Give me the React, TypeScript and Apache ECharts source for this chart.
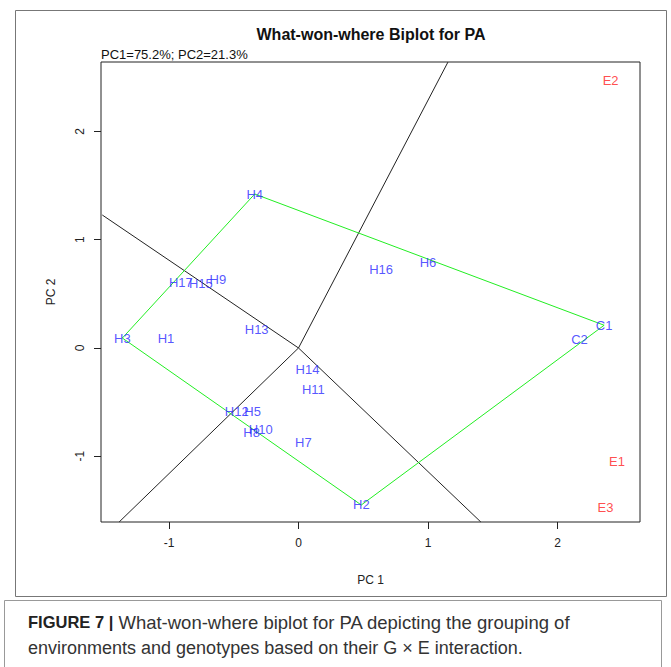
import React, { useEffect, useRef } from "react";
import * as echarts from "echarts";

// Genotype scores (PC1, PC2)
const genotypeNames = ["H1", "H2", "H3", "H4", "H5", "H6", "H7", "H8", "H9", "H10", "H17", "H11", "H12", "H13", "H14", "H15", "H16"];
const genotypePC1 = [-1.023, 0.485, -1.36, -0.338, -0.354, 1.0, 0.038, -0.362, -0.623, -0.292, -0.908, 0.115, -0.477, -0.323, 0.069, -0.754, 0.638];
const genotypePC2 = [0.083, -1.45, 0.092, 1.422, -0.591, 0.794, -0.877, -0.776, 0.637, -0.757, 0.609, -0.379, -0.591, 0.175, -0.203, 0.6, 0.729];

// Check entries
const checkNames = ["C1", "C2"];
const checkPC1 = [2.36, 2.17];
const checkPC2 = [0.21, 0.074];

// Environment scores
const envNames = ["E1", "E2", "E3"];
const envPC1 = [2.46, 2.41, 2.37];
const envPC2 = [-1.05, 2.47, -1.47];

// Convex hull vertices (closed)
const hullNames = ["H4", "C1", "H2", "H3", "H4"];

// Sector boundary rays from the origin, end points on the plot edge
const rayEndPC1 = [1.154, -1.515, 1.408, -1.385];
const rayEndPC2 = [2.64, 1.228, -1.607, -1.607];

const xTicks = [-1, 0, 1, 2];
const yTicks = [-1, 0, 1, 2];

const X_MIN = -1.525;
const X_MAX = 2.637;
const Y_MIN = -1.607;
const Y_MAX = 2.641;

function pointOf(name: string): [number, number] {
  const gi = genotypeNames.indexOf(name);
  if (gi >= 0) return [genotypePC1[gi], genotypePC2[gi]];
  const ci = checkNames.indexOf(name);
  return [checkPC1[ci], checkPC2[ci]];
}

export default function App() {
  const ref = useRef<HTMLDivElement>(null);

  useEffect(() => {
    if (!ref.current) return;
    const chart = echarts.init(ref.current, null, { renderer: "svg" });
    const font = "'Liberation Sans', Arial, sans-serif";

    const labelSeries = (names: string[], xs: number[], ys: number[], color: string, id: string) => ({
      id,
      type: "scatter",
      symbolSize: 1,
      itemStyle: { color: "rgba(0,0,0,0)" },
      data: names.map((n, i) => ({ name: n, value: [xs[i], ys[i]] })),
      label: {
        show: true,
        position: "inside",
        formatter: "{b}",
        color,
        fontSize: 13,
        fontFamily: font,
      },
      labelLayout: { hideOverlap: false },
      z: 5,
    });

    const rays = rayEndPC1.map((x, i) => ({
      type: "line",
      data: [[0, 0], [x, rayEndPC2[i]]],
      symbol: "none",
      lineStyle: { color: "#222", width: 1 },
      z: 2,
    }));

    chart.setOption({
      animation: false,
      backgroundColor: "#fff",
      grid: {
        left: 101,
        top: 62,
        width: 539,
        height: 460,
        show: true,
        borderColor: "#222",
        borderWidth: 1,
        backgroundColor: "transparent",
      },
      xAxis: {
        type: "value",
        min: X_MIN,
        max: X_MAX,
        axisLine: { show: false, onZero: false },
        axisTick: { show: true, inside: false, length: 7, customValues: xTicks, lineStyle: { color: "#222" } },
        axisLabel: { customValues: xTicks, fontSize: 12, color: "#222", margin: 15, fontFamily: font },
        splitLine: { show: false },
        name: "PC 1",
        nameLocation: "middle",
        nameGap: 52,
        nameTextStyle: { fontSize: 12, color: "#222", fontFamily: font },
      },
      yAxis: {
        type: "value",
        min: Y_MIN,
        max: Y_MAX,
        axisLine: { show: false, onZero: false },
        axisTick: { show: true, inside: false, length: 7, customValues: yTicks, lineStyle: { color: "#222" } },
        axisLabel: { customValues: yTicks, fontSize: 12, color: "#222", margin: 15, rotate: 90, fontFamily: font },
        splitLine: { show: false },
        name: "PC 2",
        nameLocation: "middle",
        nameGap: 44,
        nameRotate: 90,
        nameTextStyle: { fontSize: 12, color: "#222", fontFamily: font },
      },
      series: [
        ...rays,
        {
          type: "line",
          data: hullNames.map(pointOf),
          symbol: "none",
          lineStyle: { color: "#22ee22", width: 1 },
          z: 3,
        },
        labelSeries(genotypeNames, genotypePC1, genotypePC2, "#2a2aff", "genotypes"),
        labelSeries(checkNames, checkPC1, checkPC2, "#2a2aff", "checks"),
        labelSeries(envNames, envPC1, envPC2, "#ff2020", "environments"),
      ],
      graphic: [
        {
          type: "rect",
          shape: { x: 15.5, y: 10.5, width: 651, height: 586 },
          style: { fill: "none", stroke: "#777", lineWidth: 1 },
          silent: true,
        },
        {
          type: "text",
          x: 371,
          y: 34,
          style: {
            text: "What-won-where Biplot for PA",
            fontSize: 16,
            fontWeight: "bold",
            fontFamily: font,
            fill: "#111",
            align: "center",
            verticalAlign: "middle",
          },
        },
        {
          type: "text",
          x: 101,
          y: 54,
          style: {
            text: "PC1=75.2%; PC2=21.3%",
            fontSize: 13,
            fontFamily: font,
            fill: "#111",
            align: "left",
            verticalAlign: "middle",
          },
        },
        {
          type: "polyline",
          shape: { points: [[4.5, 667], [4.5, 600.5], [661.5, 600.5], [661.5, 667]] },
          style: { fill: "none", stroke: "#999", lineWidth: 1 },
          silent: true,
        },
        {
          type: "text",
          x: 28,
          y: 622,
          style: {
            text: "{b|FIGURE 7 |} What-won-where biplot for PA depicting the grouping of",
            fontSize: 18.5,
            fontFamily: font,
            fill: "#333",
            verticalAlign: "middle",
            rich: { b: { fontWeight: "bold", fontSize: 16.5, fontFamily: font, fill: "#222" } },
          },
        },
        {
          type: "text",
          x: 28,
          y: 648,
          style: {
            text: "environments and genotypes based on their G \u00d7 E interaction.",
            fontSize: 18,
            fontFamily: font,
            fill: "#333",
            verticalAlign: "middle",
          },
        },
      ],
    });

    return () => chart.dispose();
  }, []);

  return (
    <div
      ref={ref}
      style={{ position: "fixed", left: 0, top: 0, width: 671, height: 667, background: "#fff" }}
    />
  );
}
